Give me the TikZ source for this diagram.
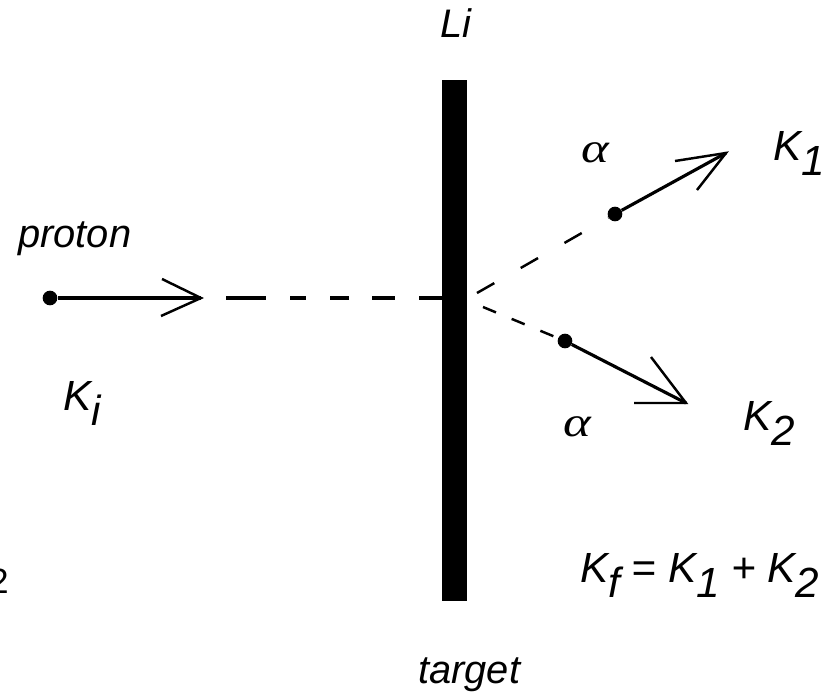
\documentclass[tikz,border=0pt]{standalone}
\usepackage{fontspec}
\setmainfont{Liberation Sans}
\newfontfamily\grk{Liberation Serif}
\newcommand\lowsub[1]{\raisebox{-13pt}{#1}}
\begin{document}
\begin{tikzpicture}[x=0.03cm,y=-0.03cm,
  lbl/.style={font=\fontsize{34}{40}\selectfont\itshape, inner sep=0pt, anchor=base west},
  klbl/.style={lbl, font=\fontsize{36}{42}\selectfont\itshape},
  alab/.style={lbl, font=\grk\fontsize{36}{42}\selectfont\itshape},
  ln/.style={line width=2.7pt},
  thin/.style={line width=2.1pt},
  dot/.style={circle, fill=black, inner sep=0pt, minimum size=0.44cm}]
\useasboundingbox (0,0) rectangle (836,692);
% target bar
\node[fill=black, inner sep=0pt, minimum width=0.75cm, minimum height=15.63cm] (bar) at (454.5,340.5) {};
% proton
\node[dot] (p) at (50,298) {};
\coordinate (ptip) at (201,298);
\coordinate (pa1) at (162,279);
\coordinate (pa2) at (161,316);
\coordinate (pd) at (226,298);
\draw[ln] (p) -- (ptip);
\draw[thin] (pa1) -- (ptip) -- (pa2);
\draw[ln, dash pattern=on 34pt off 21pt on 13pt off 21pt on 16pt off 20pt on 19pt off 21pt on 20pt off 21pt] (pd) -- (pd -| bar.west);
% upper alpha
\coordinate (u0) at (477,293);
\node[dot] (u) at (615,214) {};
\coordinate (ut) at (726,153);
\coordinate (ua1) at (675,161);
\coordinate (ua2) at (697,190);
\draw[thin, dash pattern=on 17pt off 26pt] (u0) -- (u);
\draw[ln] (u) -- (ut);
\draw[thin] (ua1) -- (ut) -- (ua2);
% lower alpha
\coordinate (l0) at (483,307);
\node[dot] (l) at (565,341) {};
\coordinate (lt) at (686,403);
\coordinate (la1) at (634,403);
\coordinate (la2) at (651,357);
\draw[thin, dash pattern=on 12pt off 14.5pt] (l0) -- (l);
\draw[ln] (l) -- (lt);
\draw[thin] (la1) -- (lt) -- (la2);
% labels
\node[lbl] (li) at (440,37) {Li};
\node[lbl] (proton) at (18,247) {proton};
\node[klbl] (ki) at (63,410) {K\lowsub{i}};
\node[alab] (al1) at (581,162) {\scalebox{1.25}[1]{α}};
\node[alab] (al2) at (563,436) {\scalebox{1.25}[1]{α}};
\node[klbl] (k1) at (773,160) {K\lowsub{1}};
\node[klbl] (k2) at (743,430) {K\lowsub{2}};
\node[klbl] (kf) at (580,582) {K\lowsub{f} = K\lowsub{1} + K\lowsub{2}};
\node[lbl] (target) at (418,683) {target};
\node[font=\fontsize{30}{34}\selectfont, inner sep=0pt, anchor=base east] (two) at (9,593) {2};
\end{tikzpicture}
\end{document}
